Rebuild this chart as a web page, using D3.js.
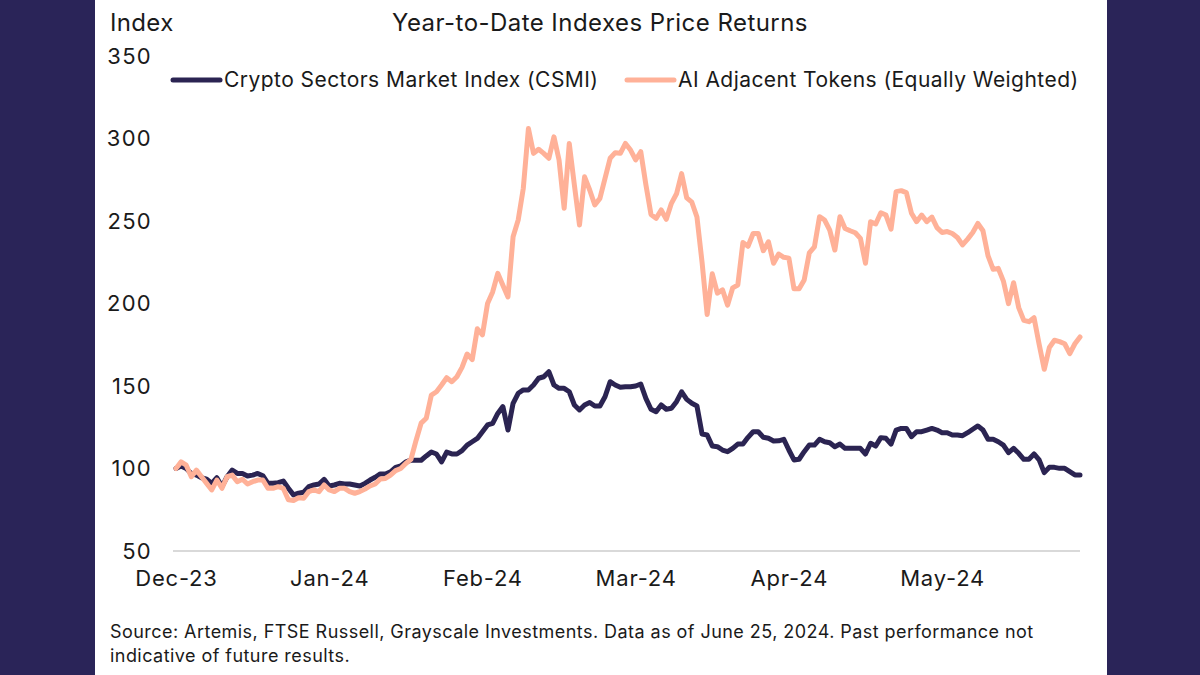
<!DOCTYPE html>
<html>
<head>
<meta charset="utf-8">
<script src="https://cdn.jsdelivr.net/npm/d3@7"></script>
<style>
  body { margin: 0; background: #2a2458; }
  svg { display: block; }
  text { font-family: Inter, "Noto Sans", sans-serif; fill: #1a1a1a; }
</style>
</head>
<body>
<div id="chart"></div>
<script>
// Data (daily, Dec 31 2023 -> Jun 25 2024, rebased to 100)
var csmi = [100, 101.5, 100, 97, 96, 94.4, 93.6, 91, 94.4, 89,
  95, 99, 97, 97, 95.5, 96, 97, 95.6, 91, 91,
  91.4, 92.4, 88, 84, 85, 85.6, 89, 90, 90.6, 93.4,
  89.4, 90, 91, 90.6, 90.6, 90, 89.4, 91, 93, 94.7,
  96.7, 96.7, 98, 100.7, 101.5, 104, 105, 105, 105, 107.6,
  110, 108.8, 104, 109.9, 108.8, 108.8, 110.8, 114.2, 116.2, 118.2,
  122.3, 126.4, 127.4, 133.4, 137.5, 123.3, 139.5, 145.6, 147.6, 147.6,
  150.6, 154.7, 155.6, 158.7, 150.6, 148.6, 148.6, 146.5, 138.5, 135.5,
  138.5, 140, 137.9, 137.9, 143.5, 152.6, 150.6, 149.2, 149.6, 149.5,
  150, 151.2, 142.5, 135.9, 134.4, 138.5, 135.9, 136.5, 140.5, 146.5,
  141.9, 139.5, 137.9, 120.9, 120.3, 113.6, 113.2, 111.2, 110.2, 112.2,
  114.8, 114.8, 118.9, 122.3, 122.3, 118.9, 118.3, 116.7, 116.8, 117.7,
  111.2, 105.2, 105.6, 110.2, 114.2, 114.2, 117.7, 116.2, 115.6, 113.2,
  114.8, 112.2, 112.2, 112.2, 112.2, 108.8, 115.3, 113.6, 118.7, 118.3,
  114.8, 123.3, 124.3, 124.3, 119.3, 122.3, 122.3, 123.3, 124.3, 123.3,
  121.7, 121.7, 120.3, 120.3, 119.9, 121.7, 123.8, 125.8, 123.3, 117.7,
  117.7, 116.2, 114.2, 109.6, 112.2, 109.2, 105.6, 105.6, 108.8, 105.2,
  97.5, 100.7, 100.7, 100.1, 100.1, 98.1, 96.1, 96.1];

var aiTokens = [100, 104, 102, 95, 99, 95, 91, 87, 93, 88,
  95, 96, 92, 93.5, 90.6, 92, 93, 93, 88, 88,
  89, 88, 81, 80.6, 82.3, 82, 86, 87, 86, 90,
  87, 86, 88, 88, 86, 85, 86, 87.5, 89.4, 90.6,
  93.6, 94, 96, 98.7, 100, 103, 105.5, 117, 127.5, 130.5,
  144.5, 146.5, 150.6, 155, 152.6, 155.6, 161.3, 169.4, 166, 184.7,
  181, 200, 207, 218.3, 211, 204, 240.5, 250.6, 269.8, 306,
  291, 293.5, 291, 288, 301, 287, 257.7, 297, 271.8, 247.6,
  276.8, 268.8, 259.7, 263.7, 275.9, 288, 291.4, 291, 297, 293,
  287, 292, 272, 254, 251.6, 256.7, 251, 260.7, 266.5, 278.7,
  264, 261.4, 252.4, 225, 193.3, 218, 206.3, 208.3, 199, 209.5,
  211.2, 237, 234.7, 242.4, 242.4, 232, 237.4, 224.4, 230, 228,
  227.5, 208.9, 208.9, 214.3, 230.7, 234.3, 252.6, 250.6, 244.5, 232.4,
  252.6, 245.5, 244.1, 242.9, 239.5, 224.4, 249.6, 248.2, 255, 253.6,
  245, 267.8, 268.4, 267.2, 254.7, 249.6, 253.6, 249.6, 252.4, 246,
  243, 243.6, 242.4, 240, 235.5, 239, 243, 248.5, 244.1, 228.8,
  220.7, 221.3, 213.6, 199.9, 212.6, 197.5, 189.8, 189, 191.4, 175.3,
  160.1, 173.3, 177.7, 176.9, 175.6, 169.6, 175.6, 179.7];

var monthLabels = ["Dec-23", "Jan-24", "Feb-24", "Mar-24", "Apr-24", "May-24"];
var monthTickIndex = [0, 30, 60, 90, 120, 150];
var yTicks = [50, 100, 150, 200, 250, 300, 350];

var seriesNames = ["Crypto Sectors Market Index (CSMI)", "AI Adjacent Tokens (Equally Weighted)"];
var seriesColors = ["#2b2452", "#ffb198"];

var width = 1200, height = 675;

var svg = d3.select("#chart").append("svg")
    .attr("width", width).attr("height", height);

// side bands + white panel
svg.append("rect").attr("x", 0).attr("y", 0).attr("width", width)
    .attr("height", height).attr("fill", "#2a2458");
svg.append("rect").attr("x", 95).attr("y", 0).attr("width", 1012)
    .attr("height", height).attr("fill", "#ffffff");

var x = d3.scaleLinear().domain([0, csmi.length - 1]).range([176, 1080]);
var y = d3.scaleLinear().domain([50, 350]).range([551, 56]);

// titles
svg.append("text").attr("x", 110).attr("y", 31).style("font-size", "24px")
    .style("letter-spacing", "0.35px").text("Index");
svg.append("text").attr("x", 600).attr("y", 31).attr("text-anchor", "middle")
    .style("font-size", "24px").style("letter-spacing", "0.45px")
    .text("Year-to-Date Indexes Price Returns");

// y axis labels (no ticks)
var yAxis = d3.axisLeft(y).tickValues(yTicks).tickSize(0).tickPadding(0);
var gy = svg.append("g").attr("transform", "translate(152,0)").call(yAxis);
gy.select(".domain").remove();
gy.selectAll("text").style("font-size", "22px").style("font-family", null)
    .style("letter-spacing", "1.3px").attr("fill", "#1a1a1a");

// baseline
svg.append("line").attr("x1", 173).attr("x2", 1080)
    .attr("y1", y(50)).attr("y2", y(50))
    .attr("stroke", "#d9d9d9").attr("stroke-width", 2);

// x axis labels
var xAxis = d3.axisBottom(x).tickValues(monthTickIndex)
    .tickFormat(function(d, i) { return monthLabels[i]; })
    .tickSize(0).tickPadding(0);
var gx = svg.append("g").attr("transform", "translate(0,570)").call(xAxis);
gx.select(".domain").remove();
gx.selectAll("text").style("font-size", "22px").style("font-family", null)
    .style("letter-spacing", "0.8px").attr("fill", "#1a1a1a");

// lines
var line = d3.line().x(function(d, i) { return x(i); }).y(function(d) { return y(d); });
[csmi, aiTokens].forEach(function(s, k) {
  svg.append("path").datum(s).attr("d", line)
      .attr("fill", "none").attr("stroke", seriesColors[k])
      .attr("stroke-width", 5).attr("stroke-linejoin", "round")
      .attr("stroke-linecap", "round");
});

// legend
var legendX = [173, 627];
seriesNames.forEach(function(name, k) {
  svg.append("line").attr("x1", legendX[k]).attr("x2", legendX[k] + 47)
      .attr("y1", 80).attr("y2", 80)
      .attr("stroke", seriesColors[k]).attr("stroke-width", 5)
      .attr("stroke-linecap", "round");
  svg.append("text").attr("x", legendX[k] + 51).attr("y", 87)
      .style("font-size", "21px").style("letter-spacing", "0.45px").text(name);
});

// source
svg.append("text").attr("x", 110).attr("y", 638).style("font-size", "18px")
    .style("letter-spacing", "0.45px")
    .text("Source: Artemis, FTSE Russell, Grayscale Investments. Data as of June 25, 2024. Past performance not");
svg.append("text").attr("x", 110).attr("y", 662).style("font-size", "18px")
    .style("letter-spacing", "0.45px")
    .text("indicative of future results.");
</script>
</body>
</html>
